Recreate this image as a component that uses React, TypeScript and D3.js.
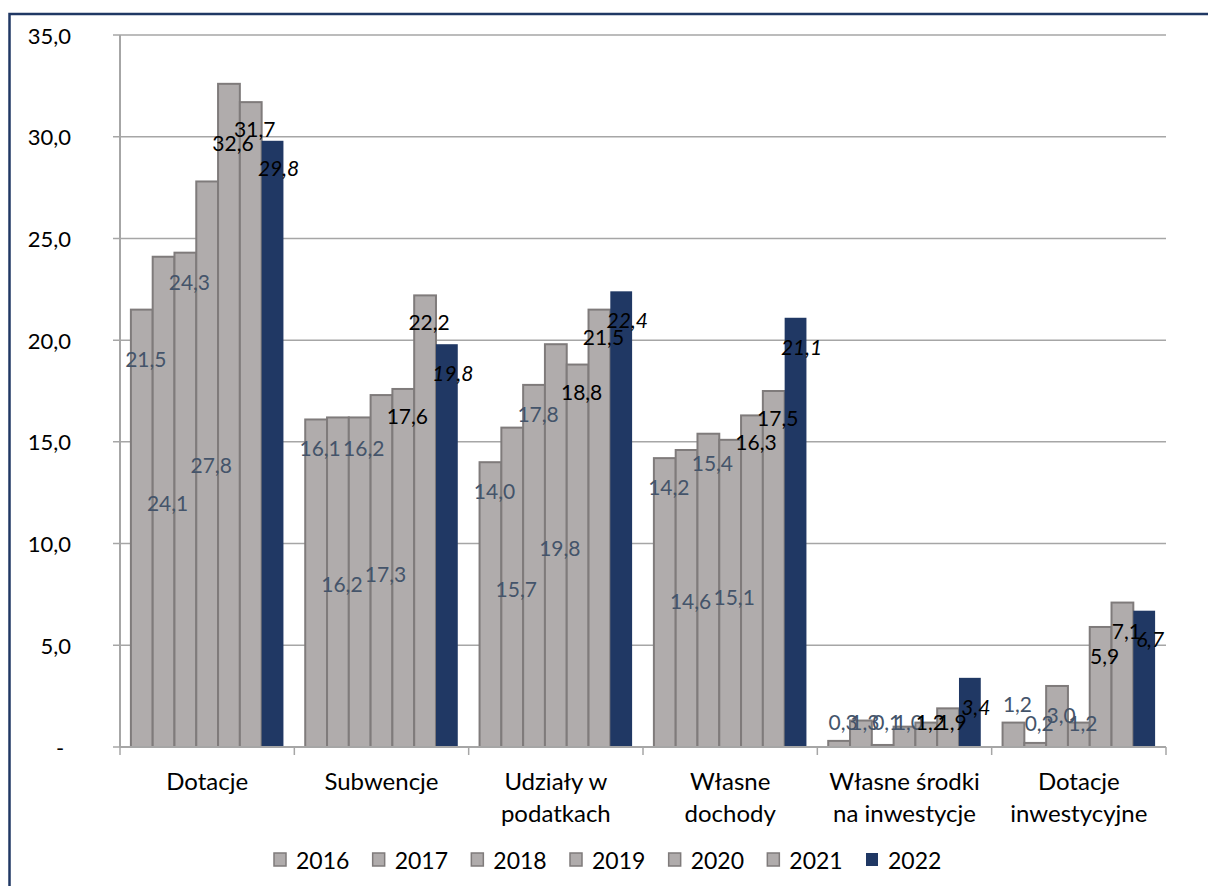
import React from "react";
import * as d3 from "d3";

const categories: string[][] = [
  ["Dotacje"],
  ["Subwencje"],
  ["Udziały w", "podatkach"],
  ["Własne", "dochody"],
  ["Własne środki", "na inwestycje"],
  ["Dotacje", "inwestycyjne"],
];
const years = ["2016", "2017", "2018", "2019", "2020", "2021", "2022"];

const v2016 = [21.5, 16.1, 14.0, 14.2, 0.3, 1.2];
const v2017 = [24.1, 16.2, 15.7, 14.6, 1.3, 0.2];
const v2018 = [24.3, 16.2, 17.8, 15.4, 0.1, 3.0];
const v2019 = [27.8, 17.3, 19.8, 15.1, 1.0, 1.2];
const v2020 = [32.6, 17.6, 18.8, 16.3, 1.2, 5.9];
const v2021 = [31.7, 22.2, 21.5, 17.5, 1.9, 7.1];
const v2022 = [29.8, 19.8, 22.4, 21.1, 3.4, 6.7];
const series = [v2016, v2017, v2018, v2019, v2020, v2021, v2022];

// where each data label sits (in axis units), as placed in the original
const lab2016 = [19.1, 14.7, 12.6, 12.8, 1.23, 2.16];
const lab2017 = [12.0, 8.06, 7.8, 7.2, 1.23, 1.18];
const lab2018 = [22.9, 14.7, 16.4, 14.0, 1.23, 1.62];
const lab2019 = [13.9, 8.55, 9.8, 7.4, 1.23, 1.18];
const lab2020 = [29.7, 16.3, 17.5, 15.0, 1.23, 4.52];
const lab2021 = [30.4, 20.9, 20.2, 16.2, 1.23, 5.75];
const lab2022 = [28.5, 18.4, 21.0, 19.7, 2.0, 5.31];
const labelPos = [lab2016, lab2017, lab2018, lab2019, lab2020, lab2021, lab2022];

const yTicks = [0, 5, 10, 15, 20, 25, 30, 35];

const FONT = "Lato, 'Open Sans', sans-serif";
const GRAY = "#B0ACAC";
const GRAY_STROKE = "#7F7B7B";
const NAVY = "#203864";
const SLATE = "#44546A";

const fmt = (v: number) => (v === 0 ? "-" : v.toFixed(1).replace(".", ","));

export default function App() {
  const W = 1208;
  const H = 886;
  const left = 120;
  const right = 1166;
  const top = 35;
  const bottom = 747;

  const y = d3.scaleLinear().domain([0, 35]).range([bottom, top]);
  const x0 = d3
    .scaleBand<number>()
    .domain(categories.map((_, i) => i))
    .range([left, right])
    .padding(0);
  const x1 = d3
    .scaleBand<string>()
    .domain(years)
    .range([0, x0.bandwidth()])
    .paddingInner(0)
    .paddingOuter(0.5);

  const legendX = d3.scalePoint<string>().domain(years).range([296, 888]);

  return (
    <svg
      width={W}
      height={H}
      style={{ position: "absolute", left: 0, top: 0, background: "#fff" }}
      fontFamily={FONT}
    >
      <rect x={0} y={0} width={W} height={H} fill="#fff" />
      {/* frame */}
      <rect
        x={9.5}
        y={14}
        width={W + 20}
        height={H + 20}
        fill="none"
        stroke={NAVY}
        strokeWidth={2.5}
      />
      {/* gridlines + y ticks */}
      {yTicks.map((t) => (
        <g key={t}>
          {t > 0 && (
            <line
              x1={left - 7}
              x2={right}
              y1={y(t)}
              y2={y(t)}
              stroke="#A6A6A6"
              strokeWidth={1.5}
            />
          )}
          {t === 0 && (
            <line x1={left - 7} x2={left} y1={y(t)} y2={y(t)} stroke="#A6A6A6" strokeWidth={1.5} />
          )}
          <text
            x={t === 0 ? 60 : 71}
            y={y(t)}
            textAnchor={t === 0 ? "middle" : "end"}
            dominantBaseline="central"
            fontSize={22}
            fill="#000"
          >
            {fmt(t)}
          </text>
        </g>
      ))}
      {/* bars */}
      {categories.map((_, ci) => (
        <g key={ci} transform={`translate(${x0(ci)},0)`}>
          {years.map((yr, si) => {
            const v = series[si][ci];
            const isLast = si === years.length - 1;
            return (
              <rect
                key={yr}
                x={x1(yr)!}
                y={y(v)}
                width={x1.bandwidth()}
                height={y(0) - y(v)}
                fill={isLast ? NAVY : GRAY}
                stroke={isLast ? "none" : GRAY_STROKE}
                strokeWidth={isLast ? 0 : 2}
              />
            );
          })}
        </g>
      ))}
      {/* axes */}
      <line x1={left} x2={left} y1={top} y2={bottom} stroke="#A6A6A6" strokeWidth={2} />
      <line x1={left} x2={right} y1={bottom} y2={bottom} stroke="#A6A6A6" strokeWidth={2} />
      {d3.range(categories.length + 1).map((i) => {
        const xx = left + i * x0.step();
        return (
          <line key={i} x1={xx} x2={xx} y1={bottom} y2={bottom + 8} stroke="#A6A6A6" strokeWidth={1.5} />
        );
      })}
      {/* data labels */}
      {categories.map((_, ci) => (
        <g key={"l" + ci} transform={`translate(${x0(ci)},0)`}>
          {years.map((yr, si) => {
            const v = series[si][ci];
            const isLast = si === years.length - 1;
            const color = si < 4 ? SLATE : "#000";
            return (
              <text
                key={yr}
                x={x1(yr)! + x1.bandwidth() / 2 + (isLast ? 6 : 4)}
                y={y(labelPos[si][ci])}
                textAnchor="middle"
                dominantBaseline="central"
                fontSize={21}
                fontStyle={isLast ? "italic" : "normal"}
                fill={color}
              >
                {fmt(v)}
              </text>
            );
          })}
        </g>
      ))}
      {/* category labels */}
      {categories.map((lines, ci) => (
        <text
          key={"c" + ci}
          x={x0(ci)! + x0.bandwidth() / 2}
          y={780}
          textAnchor="middle"
          dominantBaseline="central"
          fontSize={24}
          fill="#000"
        >
          {lines.map((ln, li) => (
            <tspan key={li} x={x0(ci)! + x0.bandwidth() / 2} dy={li === 0 ? 0 : 32}>
              {ln}
            </tspan>
          ))}
        </text>
      ))}
      {/* legend */}
      {years.map((yr, si) => {
        const lx = legendX(yr)!;
        const isLast = si === years.length - 1;
        return (
          <g key={"lg" + yr}>
            <rect
              x={lx - 22}
              y={853}
              width={12}
              height={13}
              fill={isLast ? NAVY : GRAY}
              stroke={isLast ? "none" : GRAY_STROKE}
              strokeWidth={isLast ? 0 : 1.5}
            />
            <text x={lx} y={860} dominantBaseline="central" fontSize={23} fill="#000">
              {yr}
            </text>
          </g>
        );
      })}
    </svg>
  );
}
